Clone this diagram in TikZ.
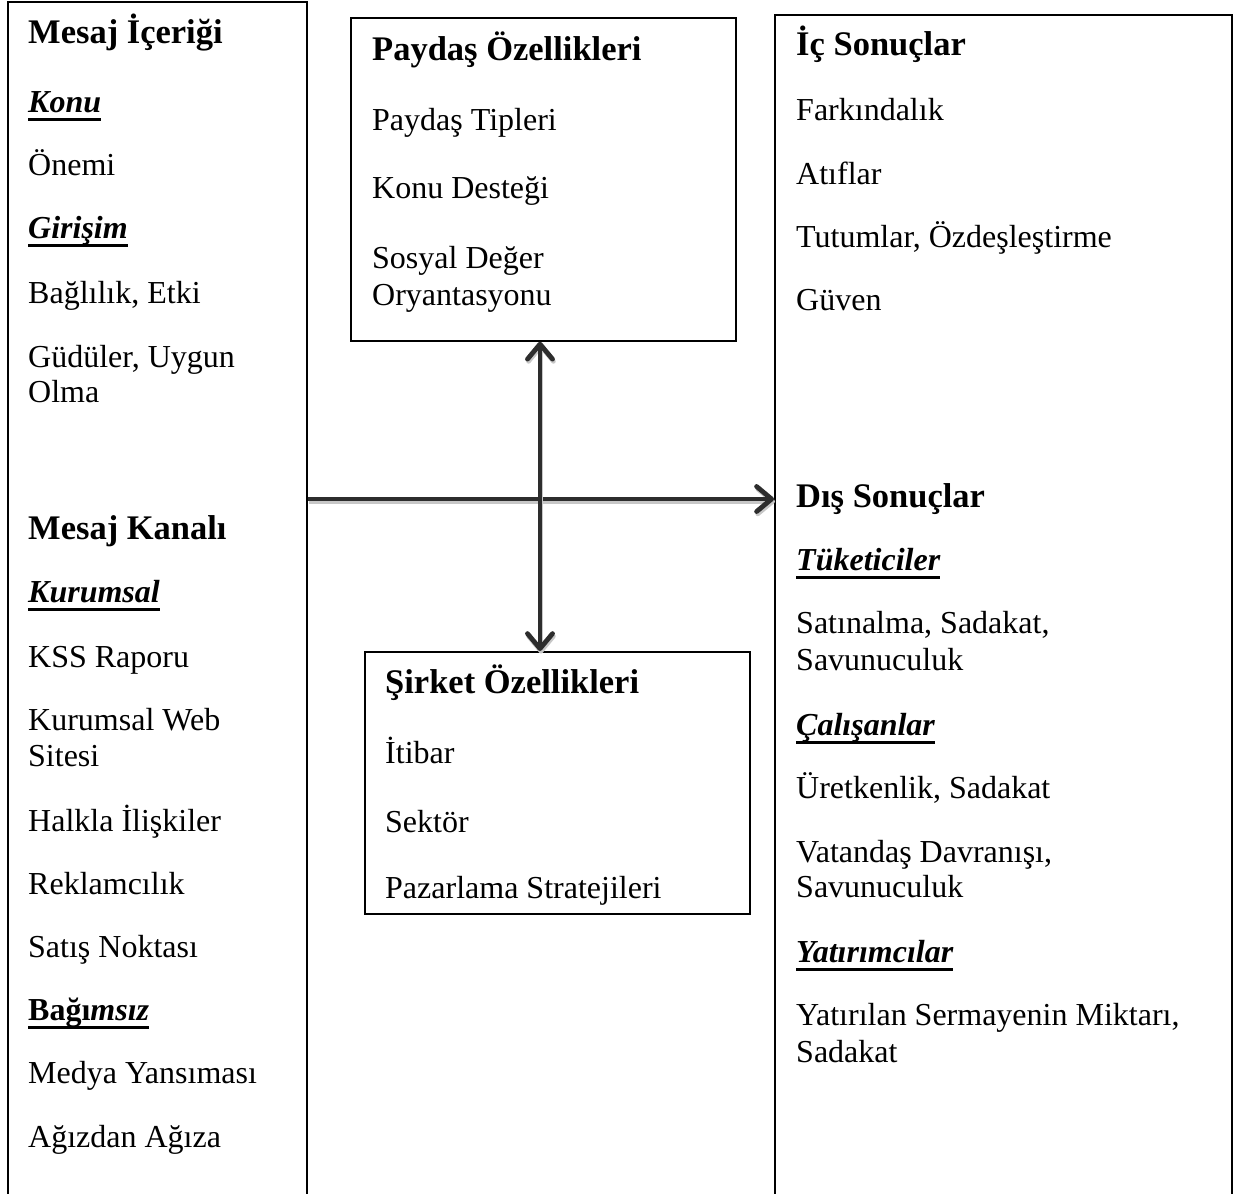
\documentclass[tikz,border=0pt]{standalone}
\usepackage{fontspec}
\setmainfont{Liberation Serif}
\usetikzlibrary{arrows.meta}

% underline drawn as a thick rule below the baseline
\newsavebox\ulbx
\newcommand\ulined[1]{\sbox\ulbx{#1}\rlap{\rule[-9pt]{\wd\ulbx}{3.2pt}}\usebox\ulbx}

\begin{document}
\begin{tikzpicture}[x=1pt,y=-1pt,
  frame/.style={draw=black,line width=1.7pt,rectangle,inner sep=0pt,anchor=north west},
  item/.style={anchor=base west,inner sep=0pt,font=\fontsize{32}{37}\selectfont},
  head/.style={anchor=base west,inner sep=0pt,font=\fontsize{34.5}{40}\selectfont\bfseries},
  sub/.style={anchor=base west,inner sep=0pt,font=\fontsize{32}{37}\selectfont\bfseries\itshape},
  barb/.tip={Straight Barb[length=15pt,width=25pt,line cap=round,line join=round]},
  link/.style={line width=4.8pt,draw={rgb,255:red,45;green,45;blue,45},
    preaction={draw=black!22,line width=4.5pt,transform canvas={shift={(1pt,-2.5pt)}}}}
]
\useasboundingbox (0,0) rectangle (1240,1194);
\clip (0,0) rectangle (1240,1194);

% frames
\node[frame,minimum width=299pt,minimum height=1240pt] (msg) at (7,1) {};
\node[frame,minimum width=385pt,minimum height=323pt] (pay) at (350,17) {};
\node[frame,minimum width=457pt,minimum height=1240pt] (res) at (774,14) {};
\node[frame,minimum width=385pt,minimum height=262pt] (sir) at (364,651) {};

% left column
\node[head] (m1) at (28,43) {Mesaj İçeriği};
\node[sub]  (m2) at (28,112) {\ulined{Konu}};
\node[item] (m3) at (28,175) {Önemi};
\node[sub]  (m4) at (28,238) {\ulined{Girişim}};
\node[item] (m5) at (28,303) {Bağlılık, Etki};
\node[item] (m6) at (28,367) {Güdüler, Uygun};
\node[item] (m7) at (28,402) {Olma};
\node[head] (m8) at (28,539) {Mesaj Kanalı};
\node[sub]  (m9) at (28,602) {\ulined{Kurumsal}};
\node[item] (m10) at (28,667) {KSS Raporu};
\node[item] (m11) at (28,730) {Kurumsal Web};
\node[item] (m12) at (28,766) {Sitesi};
\node[item] (m13) at (28,831) {Halkla İlişkiler};
\node[item] (m14) at (28,894) {Reklamcılık};
\node[item] (m15) at (28,957) {Satış Noktası};
\node[sub]  (m16) at (28,1020) {\ulined{\upshape Bağı\itshape msız}};
\node[item] (m17) at (28,1083) {Medya Yansıması};
\node[item] (m18) at (28,1147) {Ağızdan Ağıza};

% stakeholder box
\node[head] (p1) at (372,60) {Paydaş Özellikleri};
\node[item] (p2) at (372,130) {Paydaş Tipleri};
\node[item] (p3) at (372,198) {Konu Desteği};
\node[item] (p4) at (372,268) {Sosyal Değer};
\node[item] (p5) at (372,305) {Oryantasyonu};

% company box
\node[head] (s1) at (385,693) {Şirket Özellikleri};
\node[item] (s2) at (385,763) {İtibar};
\node[item] (s3) at (385,832) {Sektör};
\node[item] (s4) at (385,898) {Pazarlama Stratejileri};

% outcomes column
\node[head] (r1) at (796,55) {İç Sonuçlar};
\node[item] (r2) at (796,120) {Farkındalık};
\node[item] (r3) at (796,184) {Atıflar};
\node[item] (r4) at (796,247) {Tutumlar, Özdeşleştirme};
\node[item] (r5) at (796,310) {Güven};
\node[head] (r6) at (796,507) {Dış Sonuçlar};
\node[sub]  (r7) at (796,570) {\ulined{Tüketiciler}};
\node[item] (r8) at (796,633) {Satınalma, Sadakat,};
\node[item] (r9) at (796,670) {Savunuculuk};
\node[sub]  (r10) at (796,735) {\ulined{Çalışanlar}};
\node[item] (r11) at (796,798) {Üretkenlik, Sadakat};
\node[item] (r12) at (796,862) {Vatandaş Davranışı,};
\node[item] (r13) at (796,897) {Savunuculuk};
\node[sub]  (r14) at (796,962) {\ulined{Yatırımcılar}};
\node[item] (r15) at (796,1025) {Yatırılan Sermayenin Miktarı,};
\node[item] (r16) at (796,1062) {Sadakat};

% connectors
\coordinate (hy) at (0,499);
\coordinate (vx) at (540,0);
\draw[link,-barb] (msg.east |- hy) -- (res.west |- hy);
\draw[link,barb-barb] (pay.south -| vx) -- (sir.north -| vx);
\end{tikzpicture}
\end{document}
